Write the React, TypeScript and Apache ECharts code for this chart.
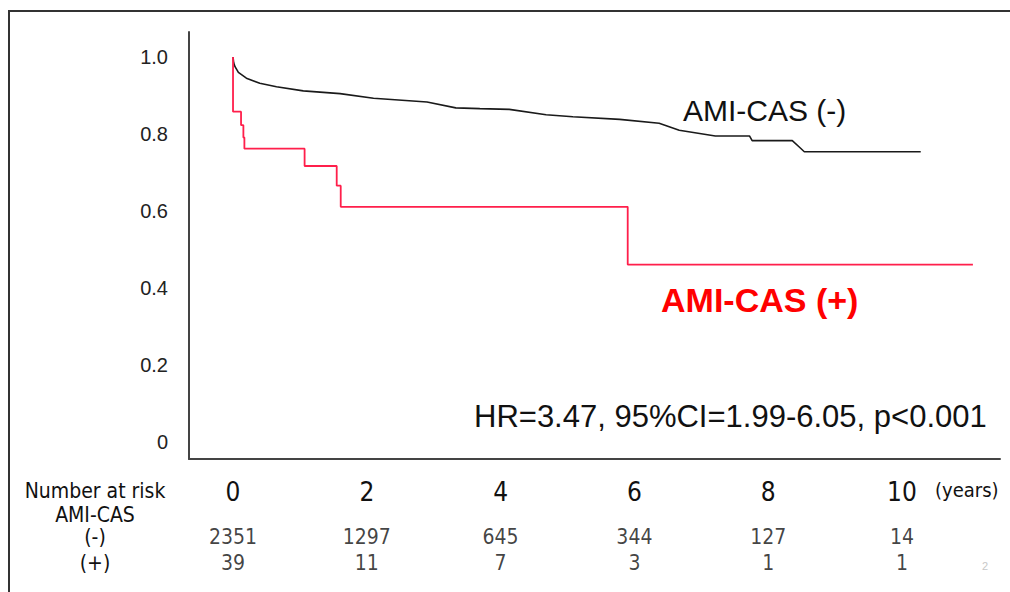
import React, { useEffect, useRef } from "react";
import * as echarts from "echarts";

const yearTicks = [0, 2, 4, 6, 8, 10];
const riskNeg = [2351, 1297, 645, 344, 127, 14];
const riskPos = [39, 11, 7, 3, 1, 1];
const yTicks = [0, 0.2, 0.4, 0.6, 0.8, 1.0];
const riskRows = ["(-)", "(+)"];

const negTime = [0, 0.01, 0.03, 0.08, 0.2, 0.4, 0.65, 1.05, 1.6, 2.1, 2.9, 3.33, 3.69, 4.13, 4.68, 5.08, 5.78, 6.37, 6.67, 7.21, 7.72, 7.76, 8.36, 8.46, 8.54, 10.28];
const negSurv = [1.0, 0.985, 0.975, 0.96, 0.945, 0.932, 0.923, 0.912, 0.905, 0.893, 0.883, 0.868, 0.866, 0.864, 0.85, 0.845, 0.838, 0.828, 0.81, 0.795, 0.795, 0.783, 0.783, 0.767, 0.754, 0.754];

const posTime = [0, 0, 0.12, 0.155, 0.17, 1.07, 1.55, 1.61, 5.9, 11.06];
const posSurv = [1.0, 0.858, 0.823, 0.791, 0.762, 0.717, 0.666, 0.611, 0.461, 0.461];

const NARROW = '"Liberation Sans Narrow", "DejaVu Sans Condensed", "Liberation Sans", sans-serif';
const SANS = '"Liberation Sans", Arial, sans-serif';

export default function App() {
  const ref = useRef<HTMLDivElement>(null);
  useEffect(() => {
    if (!ref.current) return;
    const chart = echarts.init(ref.current, null, { renderer: "svg" });
    const xMin = -0.658;
    const xMax = 11.465;
    const riskData: any[] = [];
    yearTicks.forEach((t, i) => {
      riskData.push([t, "(-)", riskNeg[i]]);
      riskData.push([t, "(+)", riskPos[i]]);
    });
    chart.setOption({
      animation: false,
      backgroundColor: "#ffffff",
      grid: [
        { left: 189, top: 32, right: 10, height: 427 },
        { left: 189, top: 524, right: 10, height: 52 },
      ],
      xAxis: [
        {
          gridIndex: 0,
          type: "value",
          min: xMin,
          max: xMax,
          axisLine: { show: true, onZero: false, lineStyle: { color: "#444", width: 2 } },
          axisTick: { show: false },
          splitLine: { show: false },
          axisLabel: {
            customValues: yearTicks,
            formatter: (v: number) => String(v),
            margin: 20,
            fontFamily: NARROW,
            fontSize: 26,
            color: "#111",
          },
        },
        {
          gridIndex: 1,
          type: "value",
          min: xMin,
          max: xMax,
          show: false,
        },
      ],
      yAxis: [
        {
          gridIndex: 0,
          type: "value",
          min: -0.044,
          max: 1.065,
          axisLine: { show: true, onZero: false, lineStyle: { color: "#444", width: 2 } },
          axisTick: { show: false },
          splitLine: { show: false },
          axisLabel: {
            customValues: yTicks,
            formatter: (v: number) => (v === 0 ? "0" : v.toFixed(1)),
            margin: 21,
            fontFamily: SANS,
            fontSize: 20,
            color: "#222",
          },
        },
        {
          gridIndex: 1,
          type: "category",
          data: riskRows,
          inverse: true,
          axisLine: { show: false },
          axisTick: { show: false },
          splitLine: { show: false },
          axisLabel: {
            interval: 0,
            align: "center",
            margin: 94,
            fontFamily: NARROW,
            fontSize: 21,
            color: "#111",
          },
        },
      ],
      series: [
        {
          type: "line",
          name: "AMI-CAS (-)",
          xAxisIndex: 0,
          yAxisIndex: 0,
          data: negTime.map((t, i) => [t, negSurv[i]]),
          showSymbol: false,
          lineStyle: { color: "#1a1a1a", width: 1.6 },
        },
        {
          type: "line",
          name: "AMI-CAS (+)",
          xAxisIndex: 0,
          yAxisIndex: 0,
          step: "end",
          data: posTime.map((t, i) => [t, posSurv[i]]),
          showSymbol: false,
          lineStyle: { color: "#ff1f4b", width: 1.8 },
        },
        {
          type: "scatter",
          xAxisIndex: 1,
          yAxisIndex: 1,
          data: riskData,
          symbolSize: 1,
          itemStyle: { color: "rgba(0,0,0,0)" },
          label: {
            show: true,
            position: "inside",
            formatter: (p: any) => String(p.value[2]),
            fontFamily: NARROW,
            fontSize: 21,
            color: "#111",
          },
        },
      ],
      graphic: [
        {
          type: "rect",
          shape: { x: 9, y: 11, width: 1020, height: 600 },
          style: { fill: "none", stroke: "#333", lineWidth: 2 },
          silent: true,
        },
        {
          type: "text",
          x: 683,
          y: 110,
          style: { text: "AMI-CAS (-)", fontFamily: SANS, fontSize: 30, fill: "#111", textVerticalAlign: "middle" },
        },
        {
          type: "text",
          x: 661,
          y: 300,
          style: { text: "AMI-CAS (+)", fontFamily: SANS, fontSize: 34, fontWeight: "bold", fill: "#ff0000", textVerticalAlign: "middle" },
        },
        {
          type: "text",
          x: 474,
          y: 416,
          style: { text: "HR=3.47, 95%CI=1.99-6.05, p<0.001", fontFamily: SANS, fontSize: 31, fill: "#111", textVerticalAlign: "middle" },
        },
        {
          type: "text",
          x: 95,
          y: 491,
          style: { text: "Number at risk", fontFamily: NARROW, fontSize: 21, fill: "#111", textAlign: "center", textVerticalAlign: "middle" },
        },
        {
          type: "text",
          x: 95,
          y: 515,
          style: { text: "AMI-CAS", fontFamily: NARROW, fontSize: 21, fill: "#111", textAlign: "center", textVerticalAlign: "middle" },
        },
        {
          type: "text",
          x: 935,
          y: 490,
          style: { text: "(years)", fontFamily: NARROW, fontSize: 20, fill: "#111", textVerticalAlign: "middle" },
        },
        {
          type: "text",
          x: 985,
          y: 566,
          style: { text: "2", fontFamily: SANS, fontSize: 11, fill: "#c8c8c8", textAlign: "center", textVerticalAlign: "middle" },
        },
      ],
    });
    return () => chart.dispose();
  }, []);
  return (
    <div
      ref={ref}
      style={{ position: "fixed", left: 0, top: 0, width: 1010, height: 592 }}
    />
  );
}
